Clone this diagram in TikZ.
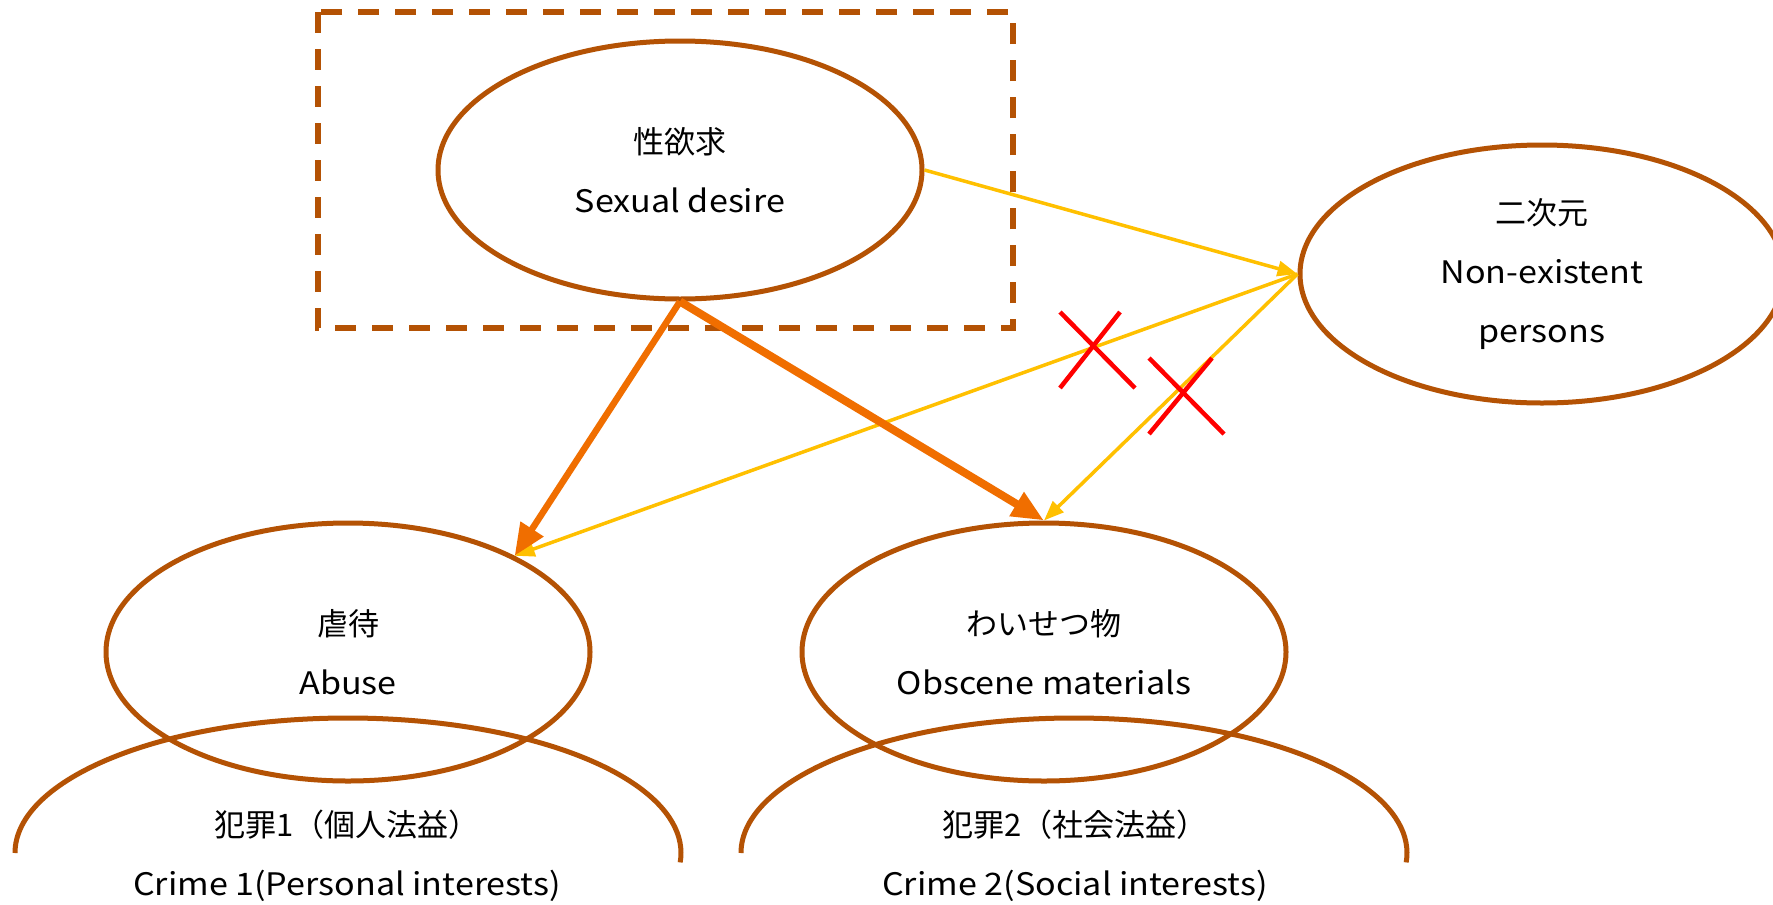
\documentclass[tikz,border=0pt]{standalone}
\usepackage{fontspec}
\setmainfont{Noto Sans CJK JP}[FakeStretch=1.1]
\newfontfamily\jp{Noto Sans CJK JP}
\usetikzlibrary{shapes.geometric,arrows.meta}
\definecolor{brn}{RGB}{180,82,4}
\definecolor{org}{RGB}{240,110,0}
\definecolor{ylw}{RGB}{255,192,0}
\definecolor{rd}{RGB}{255,0,0}
\begin{document}
\begin{tikzpicture}[x=1pt,y=-1pt,
  oval/.style={draw=brn, line width=5pt, ellipse, minimum width=484pt, minimum height=258pt, inner sep=0pt, align=center, font=\fontsize{31}{59}\selectfont},
  lbl/.style={align=center, font=\fontsize{31}{59}\selectfont, inner sep=0pt},
  crimearc/.style={draw=brn, line width=5pt},
  frame/.style={draw=brn, line width=5.5pt, dash pattern=on 21pt off 16pt},
  bigarrow/.style={draw=org, -{Triangle[length=32pt,width=26pt]}},
  yarrow/.style={draw=ylw, line width=3.5pt, -{Triangle[length=20pt,width=15pt]}},
  nomark/.style={draw=rd, line width=4.5pt}]
\useasboundingbox (0,0) rectangle (1773,905);
\fill[white] (0,0) rectangle (1773,905);
% dashed frame
\draw[frame] (318,12) rectangle (1013,328);
% ovals
\node[oval] (sd) at (680,170) {{\jp 性欲求}\\Sexual desire};
\node[oval] (ne) at (1542,274) {{\jp 二次元}\\Non-existent\\persons};
\node[oval] (ab) at (348,652) {{\jp 虐待}\\Abuse};
\node[oval] (ob) at (1044,652) {{\jp わいせつ物}\\Obscene materials};
% crime arcs
\coordinate (c1) at (348,853);
\coordinate (c2) at (1074,853);
\draw[crimearc] (c1) ++(-333,0) arc[start angle=180, end angle=-4, x radius=333pt, y radius=135pt];
\draw[crimearc] (c2) ++(-333,0) arc[start angle=180, end angle=-4, x radius=333pt, y radius=135pt];
\node[lbl] (cr1) at (347,856) {{\jp 犯罪1（個人法益）}\\Crime 1(Personal interests)};
\node[lbl] (cr2) at (1075,856) {{\jp 犯罪2（社会法益）}\\Crime 2(Social interests)};
% arrows
\draw[yarrow] (sd.east) -- (ne.west);
\draw[yarrow] (ne.west) -- (ab.30);
\draw[yarrow] (ne.west) -- (ob.north);
\draw[bigarrow, line width=6.5pt] (sd.south) -- (ab.30);
\draw[bigarrow, line width=8pt] (sd.south) -- (ob.north);
% red crosses
\draw[nomark] (1060,312) -- (1135,388);
\draw[nomark] (1120,312) -- (1060,388);
\draw[nomark] (1149,358) -- (1224,434);
\draw[nomark] (1212,358) -- (1149,434);
\end{tikzpicture}
\end{document}
